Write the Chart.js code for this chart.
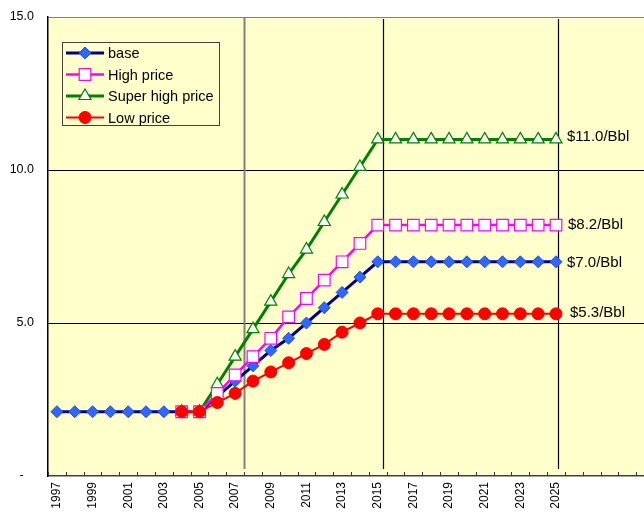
<!DOCTYPE html>
<html>
<head>
<meta charset="utf-8">
<script src="https://cdn.jsdelivr.net/npm/chart.js@4/dist/chart.umd.min.js"></script>
<style>
  html, body { margin: 0; padding: 0; background: #fff; overflow: hidden; }
  #wrap { position: relative; width: 644px; height: 514px; overflow: hidden; }
  #c { position: absolute; left: 0; top: 0; width: 654px; height: 514px; }
</style>
</head>
<body>
<div id="wrap"><canvas id="c" width="654" height="514"></canvas></div>
<script>
// Years on the category axis (the axis runs a few years past the last labelled one)
const years = [1997, 1998, 1999, 2000, 2001, 2002, 2003, 2004, 2005, 2006,
               2007, 2008, 2009, 2010, 2011, 2012, 2013, 2014, 2015, 2016,
               2017, 2018, 2019, 2020, 2021, 2022, 2023, 2024, 2025, 2026,
               2027, 2028, 2029, 2030];
const lastLabelledYear = 2025;

// Price scenarios, $/Bbl, 1997-2025
const base = [2.1, 2.1, 2.1, 2.1, 2.1, 2.1, 2.1, 2.1, 2.1,
              2.6, 3.1, 3.6, 4.1, 4.5, 5.0, 5.5, 6.0, 6.5, 7.0,
              7.0, 7.0, 7.0, 7.0, 7.0, 7.0, 7.0, 7.0, 7.0, 7.0];
const highPrice = [null, null, null, null, null, null, null, 2.1, 2.1,
              2.7, 3.3, 3.9, 4.5, 5.2, 5.8, 6.4, 7.0, 7.6, 8.2,
              8.2, 8.2, 8.2, 8.2, 8.2, 8.2, 8.2, 8.2, 8.2, 8.2];
const superHighPrice = [null, null, null, null, null, null, null, 2.1, 2.1,
              3.0, 3.9, 4.8, 5.7, 6.6, 7.4, 8.3, 9.2, 10.1, 11.0,
              11.0, 11.0, 11.0, 11.0, 11.0, 11.0, 11.0, 11.0, 11.0, 11.0];
const lowPrice = [null, null, null, null, null, null, null, 2.1, 2.1,
              2.4, 2.7, 3.1, 3.4, 3.7, 4.0, 4.3, 4.7, 5.0, 5.3,
              5.3, 5.3, 5.3, 5.3, 5.3, 5.3, 5.3, 5.3, 5.3, 5.3];

// Y axis ticks
const yTicks = [0, 5, 10, 15];

const categoryLabels = years.map(y => (y <= lastLabelledYear ? String(y) : ''));
const PLOT_BG = '#FFFFCC';
const FONT = '"Liberation Sans", Arial, sans-serif';

function drawMarker(ctx, style, x, y, r, fill, stroke, bw) {
  ctx.save();
  ctx.beginPath();
  if (style === 'circle') {
    ctx.arc(x, y, r, 0, Math.PI * 2);
  } else if (style === 'rect') {
    const s = r * Math.SQRT1_2;
    ctx.rect(x - s, y - s, 2 * s, 2 * s);
  } else if (style === 'rectRot') {
    ctx.moveTo(x, y - r); ctx.lineTo(x + r, y); ctx.lineTo(x, y + r); ctx.lineTo(x - r, y);
    ctx.closePath();
  } else if (style === 'triangle') {
    ctx.moveTo(x, y - r);
    ctx.lineTo(x + r * Math.sin(Math.PI * 2 / 3), y - r * Math.cos(Math.PI * 2 / 3));
    ctx.lineTo(x - r * Math.sin(Math.PI * 2 / 3), y - r * Math.cos(Math.PI * 2 / 3));
    ctx.closePath();
  }
  ctx.fillStyle = fill; ctx.fill();
  ctx.lineWidth = bw; ctx.strokeStyle = stroke; ctx.stroke();
  ctx.restore();
}

// Yellow plot area
const plotBackground = {
  id: 'plotBackground',
  beforeDraw(chart) {
    const { ctx, chartArea: a } = chart;
    ctx.save();
    ctx.fillStyle = PLOT_BG;
    ctx.fillRect(a.left, a.top, a.right - a.left, a.bottom - a.top);
    ctx.restore();
  }
};

// Inward tick marks at every category boundary + vertical marker lines
const axisDecor = {
  id: 'axisDecor',
  beforeDatasetsDraw(chart, args, opts) {
    const { ctx, chartArea: a, scales: { x } } = chart;
    ctx.save();
    opts.lines.forEach(l => {
      const px = Math.round(x.getPixelForValue(l.at)) + 0.5;
      ctx.beginPath();
      ctx.strokeStyle = l.color;
      ctx.lineWidth = l.width;
      ctx.moveTo(px, a.top + l.top);
      ctx.lineTo(px, a.bottom - 7);
      ctx.stroke();
    });
    ctx.strokeStyle = '#333';
    ctx.lineWidth = 1;
    for (let i = 0; i <= years.length; i++) {
      const px = Math.round(x.getPixelForValue(i - 0.5)) + 0.5;
      ctx.beginPath();
      ctx.moveTo(px, a.bottom);
      ctx.lineTo(px, a.bottom - 4);
      ctx.stroke();
    }
    ctx.restore();
  }
};

// "$x/Bbl" labels next to each series' final value
const endLabels = {
  id: 'endLabels',
  afterDatasetsDraw(chart, args, opts) {
    const { ctx, scales: { x, y } } = chart;
    ctx.save();
    ctx.font = opts.font;
    ctx.textBaseline = 'middle';
    ctx.textAlign = 'left';
    chart.data.datasets.forEach((ds, i) => {
      const n = ds.data.length - 1;
      const v = ds.data[n];
      const text = '$' + v.toFixed(1) + '/Bbl';
      const off = opts.offsets[i];
      const px = x.getPixelForValue(n) + off.dx;
      const py = y.getPixelForValue(v) + off.dy;
      const w = ctx.measureText(text).width;
      ctx.fillStyle = PLOT_BG;
      ctx.fillRect(px - 3, py - 9, w + 6, 18);
      ctx.fillStyle = '#000';
      ctx.fillText(text, px, py);
    });
    ctx.restore();
  }
};

// Boxed legend inside the plot area
const boxLegend = {
  id: 'boxLegend',
  afterDraw(chart, args, opts) {
    const { ctx } = chart;
    ctx.save();
    ctx.fillStyle = PLOT_BG;
    ctx.fillRect(opts.x, opts.y, opts.w, opts.h);
    ctx.strokeStyle = '#404040';
    ctx.lineWidth = 1;
    ctx.strokeRect(opts.x + 0.5, opts.y + 0.5, opts.w, opts.h);
    ctx.font = opts.font;
    ctx.textBaseline = 'middle';
    chart.data.datasets.forEach((ds, i) => {
      const cy = opts.y + opts.first + i * opts.step;
      ctx.beginPath();
      ctx.strokeStyle = ds.borderColor;
      ctx.lineWidth = ds.borderWidth;
      ctx.moveTo(opts.x + 4, cy);
      ctx.lineTo(opts.x + 42, cy);
      ctx.stroke();
      drawMarker(ctx, ds.pointStyle, opts.x + 23, cy, ds.pointRadius,
                 ds.pointBackgroundColor, ds.pointBorderColor, ds.pointBorderWidth);
      ctx.fillStyle = '#000';
      ctx.fillText(ds.label, opts.x + 46, cy + 1);
    });
    ctx.restore();
  }
};

new Chart(document.getElementById('c'), {
  type: 'line',
  data: {
    labels: categoryLabels,
    datasets: [
      { label: 'base', data: base, order: 4,
        borderColor: '#000080', borderWidth: 3,
        pointStyle: 'rectRot', pointRadius: 6,
        pointBackgroundColor: '#3366FF', pointBorderColor: '#1F4FE0', pointBorderWidth: 1 },
      { label: 'High price', data: highPrice, order: 2,
        borderColor: '#FF00FF', borderWidth: 2.5,
        pointStyle: 'rect', pointRadius: 8.2,
        pointBackgroundColor: '#FFFFFF', pointBorderColor: '#FF00FF', pointBorderWidth: 1.2 },
      { label: 'Super high price', data: superHighPrice, order: 3,
        borderColor: '#008000', borderWidth: 3,
        pointStyle: 'triangle', pointRadius: 7,
        pointBackgroundColor: '#FFFFFF', pointBorderColor: '#008000', pointBorderWidth: 1.2 },
      { label: 'Low price', data: lowPrice, order: 1,
        borderColor: '#FF0000', borderWidth: 2,
        pointStyle: 'circle', pointRadius: 6,
        pointBackgroundColor: '#FF0000', pointBorderColor: '#FF0000', pointBorderWidth: 1 }
    ]
  },
  options: {
    responsive: false,
    animation: false,
    devicePixelRatio: 1,
    layout: { autoPadding: false, padding: { top: 17, left: 0, right: 0, bottom: 0 } },
    elements: { line: { tension: 0 } },
    plugins: {
      legend: { display: false },
      tooltip: { enabled: false },
      axisDecor: {
        lines: [
          { at: 10.5, color: '#808080', width: 2, top: 0 },
          { at: 18.32, color: '#000000', width: 1.2, top: 2 },
          { at: 28.14, color: '#000000', width: 1.2, top: 2 }
        ]
      },
      endLabels: {
        font: '15px ' + FONT,
        offsets: [
          { dx: 11, dy: 1.5 },
          { dx: 12, dy: 0 },
          { dx: 11, dy: -3 },
          { dx: 14, dy: -1 }
        ]
      },
      boxLegend: { x: 62, y: 42, w: 157, h: 83, first: 11, step: 21.5, font: '14.5px ' + FONT }
    },
    scales: {
      x: {
        type: 'category',
        offset: true,
        afterFit: s => {
          s.height = 38;
          s.paddingLeft = 0; s.paddingRight = 0;
        },
        grid: { display: false, drawTicks: false },
        border: { display: true, color: '#404040', width: 1.5 },
        ticks: {
          autoSkip: false,
          maxRotation: 90,
          minRotation: 90,
          padding: 6,
          color: '#000',
          font: { family: FONT, size: 12 },
          callback: function (val, idx) { return idx % 2 === 0 ? this.getLabelForValue(val) : ''; }
        }
      },
      y: {
        min: yTicks[0],
        max: yTicks[yTicks.length - 1],
        afterFit: s => {
          s.width = 48;
          s.paddingTop = 0; s.paddingBottom = 0;
        },
        afterBuildTicks: s => { s.ticks = yTicks.map(v => ({ value: v })); },
        grid: {
          drawTicks: false,
          lineWidth: 1,
          color: c => (c.tick.value === 15 ? '#808080' : c.tick.value === 0 ? 'rgba(0,0,0,0)' : '#000000')
        },
        border: { display: true, color: '#000', width: 1.5 },
        ticks: {
          padding: 14,
          color: '#000',
          font: { family: FONT, size: 12.5 },
          callback: v => (v === 0 ? '-   ' : v.toFixed(1))
        }
      }
    }
  },
  plugins: [plotBackground, axisDecor, endLabels, boxLegend]
});
</script>
</body>
</html>
